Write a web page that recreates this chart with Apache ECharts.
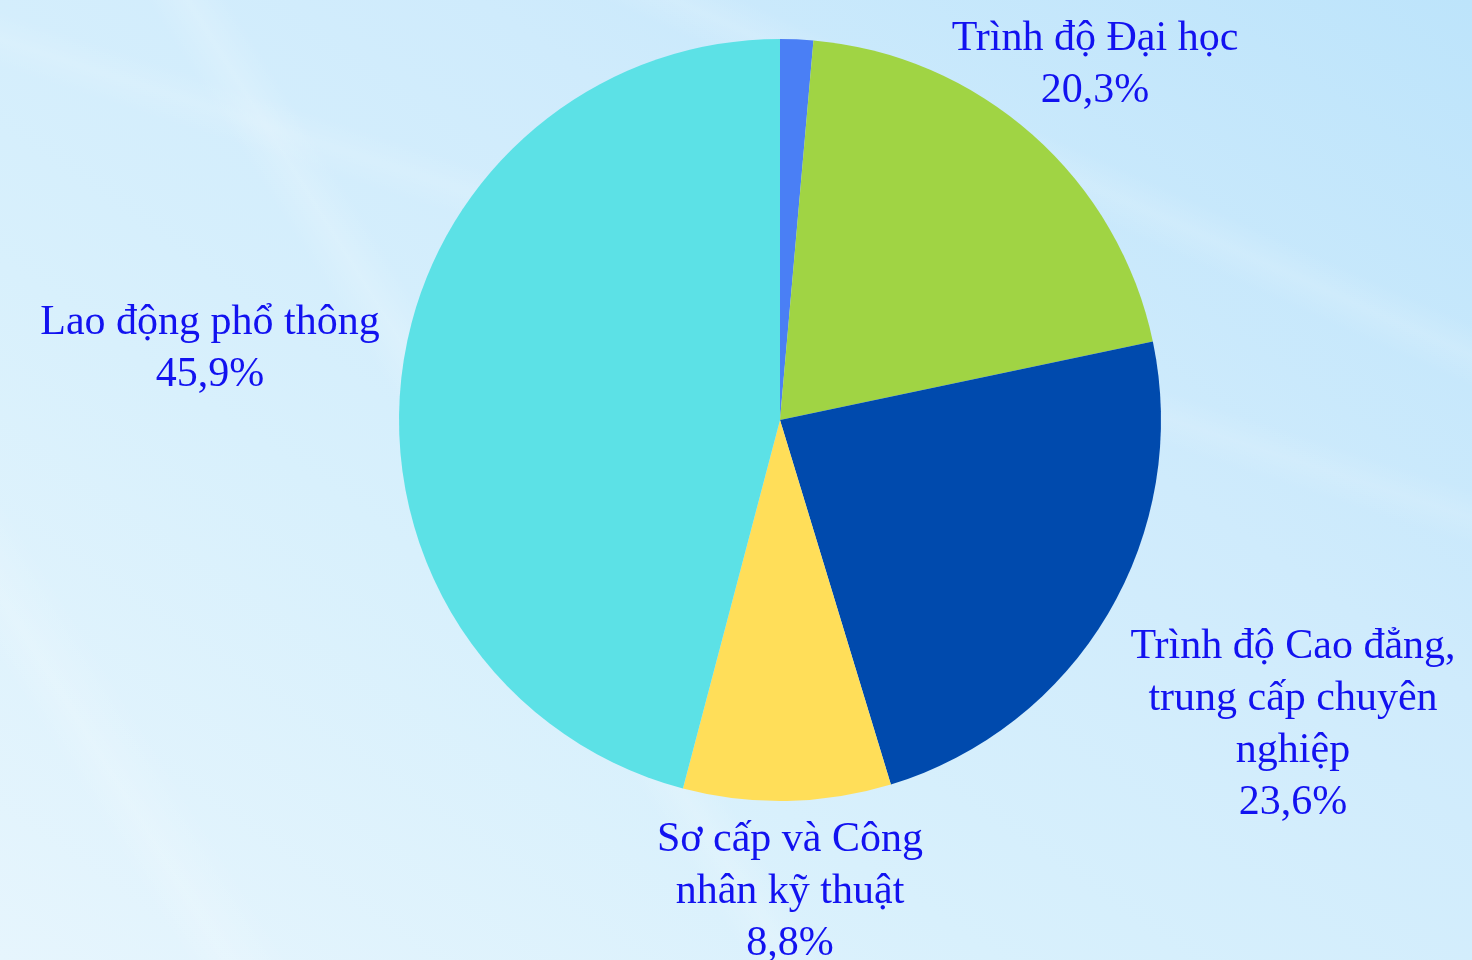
<!DOCTYPE html>
<html>
<head>
<meta charset="utf-8">
<script src="https://cdn.jsdelivr.net/npm/echarts@6/dist/echarts.min.js"></script>
<style>
  html, body { margin: 0; padding: 0; width: 1472px; height: 960px; overflow: hidden; }
  body {
    background:
      linear-gradient(58deg, rgba(255,255,255,0) 36%, rgba(255,255,255,0.16) 38%, rgba(255,255,255,0) 40%),
      linear-gradient(58deg, rgba(255,255,255,0) 9%, rgba(255,255,255,0.16) 11%, rgba(255,255,255,0) 14%),
      linear-gradient(24deg, rgba(255,255,255,0) 76%, rgba(255,255,255,0.14) 78%, rgba(255,255,255,0) 80%),
      linear-gradient(18deg, rgba(255,255,255,0) 62%, rgba(255,255,255,0.12) 64%, rgba(255,255,255,0) 66%),
      linear-gradient(35deg, #e6f5fd 0%, #d8f0fc 35%, #cfebfc 65%, #bde4fb 100%);
  }
  #chart { width: 1472px; height: 960px; }
</style>
</head>
<body>
<div id="chart"></div>
<script>
// Cơ cấu lao động theo trình độ chuyên môn (%)
const categories = [
  'Trên Đại học',
  'Trình độ Đại học',
  'Trình độ Cao đẳng,\ntrung cấp chuyên\nnghiệp',
  'Sơ cấp và Công\nnhân kỹ thuật',
  'Lao động phổ thông'
];
const values = [1.4, 20.3, 23.6, 8.8, 45.9];
const colors = ['#4a7ff5', '#a0d444', '#004aad', '#ffde59', '#5ce1e6'];
const showLabel = [false, true, true, true, true];
// label anchor points (centre of each text block)
const labelPos = [null, [1095, 65], [1293, 725], [790, 892], [210, 349]];

const chart = echarts.init(document.getElementById('chart'));

const data = categories.map((name, i) => ({
  name: name,
  value: values[i],
  itemStyle: { color: colors[i] },
  label: { show: showLabel[i] }
}));

chart.setOption({
  backgroundColor: 'transparent',
  animation: false,
  series: [{
    type: 'pie',
    center: [780, 420],
    radius: 381,
    startAngle: 90,
    clockwise: true,
    data: data,
    label: {
      position: 'outside',
      overflow: 'none',
      formatter: p => p.name + '\n' + String(p.value).replace('.', ',') + '%',
      color: '#1212f0',
      fontFamily: '"Liberation Serif", "DejaVu Serif", serif',
      fontSize: 42,
      lineHeight: 52,
      align: 'center',
      verticalAlign: 'middle'
    },
    labelLine: { show: false },
    labelLayout: p => {
      const pos = labelPos[p.dataIndex];
      if (!pos) return {};
      return { x: pos[0], y: pos[1], align: 'center', verticalAlign: 'middle' };
    },
    emphasis: { disabled: true }
  }]
});
</script>
</body>
</html>
